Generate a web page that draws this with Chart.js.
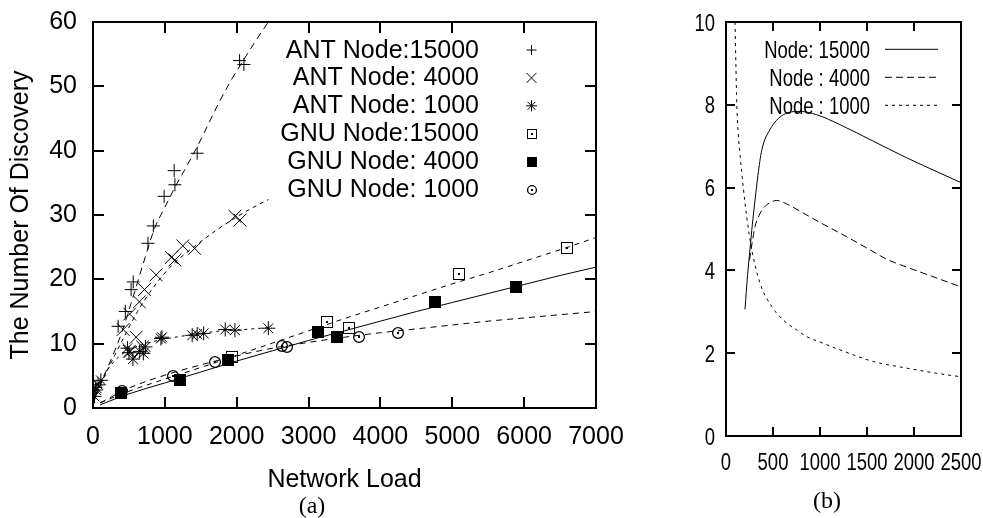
<!DOCTYPE html>
<html>
<head>
<meta charset="utf-8">
<script src="https://cdn.jsdelivr.net/npm/chart.js@4/dist/chart.umd.min.js"></script>
<style>
  html, body { margin: 0; padding: 0; background: #fff; }
  #wrap { position: relative; width: 983px; height: 518px; overflow: hidden; background: #fff; }
  canvas { position: absolute; top: 0; }
  #chartA { left: 0; }
  #chartB { left: 640px; }
  .cap { position: absolute; font-family: 'Liberation Serif', 'DejaVu Serif', serif; font-size: 24px;
         color: #000; transform: translate(-50%, -50%); white-space: nowrap; }
</style>
</head>
<body>
<div id="wrap">
  <canvas id="chartA" width="640" height="518"></canvas>
  <canvas id="chartB" width="343" height="518"></canvas>
  <div class="cap" style="left:312px;top:505px">(a)</div>
  <div class="cap" style="left:827px;top:500px">(b)</div>
</div>
<script>
// ---------- panel (a): number of discoveries vs. network load ----------
const loadTicksA = [0, 1000, 2000, 3000, 4000, 5000, 6000, 7000];
const discTicksA = [0, 10, 20, 30, 40, 50, 60];

const seriesLabelsA = ['ANT Node:15000', 'ANT Node: 4000', 'ANT Node: 1000',
                       'GNU Node:15000', 'GNU Node: 4000', 'GNU Node: 1000'];

// measured points [load, discoveries]
const ant15000 = [[40, 3.2], [350, 12.7], [450, 15.0], [530, 18.4], [560, 19.6], [765, 25.6],
                  [840, 28.3], [990, 32.9], [1140, 34.7], [1130, 36.9], [1450, 39.6],
                  [2040, 54.0], [2100, 53.4]];
const ant4000 = [[30, 3.3], [420, 12.2], [505, 8.8], [510, 14.6], [600, 11.0], [645, 16.5],
                 [690, 9.5], [716, 18.4], [878, 20.7], [1090, 23.4], [1140, 23.0], [1250, 25.2],
                 [1415, 24.8], [1975, 29.8], [2045, 29.2]];
const ant1000 = [[20, 1.8], [40, 2.8], [70, 3.6], [110, 4.3], [480, 9.3], [500, 8.6], [555, 7.6],
                 [650, 8.8], [700, 8.5], [730, 9.5], [945, 10.8], [960, 11.0], [1380, 11.3],
                 [1450, 11.5], [1540, 11.6], [1840, 12.2], [1975, 12.1], [2440, 12.4]];
const gnu15000 = [[1930, 8.0], [3260, 13.4], [3560, 12.5], [5100, 20.8], [6600, 24.8]];
const gnu4000 = [[390, 2.3], [1205, 4.4], [1880, 7.5], [3130, 11.8], [3390, 11.1],
                 [4755, 16.4], [5890, 18.8]];
const gnu1000 = [[400, 2.7], [1115, 4.9], [1695, 7.1], [2625, 9.6], [2694, 9.5],
                 [3705, 11.0], [4250, 11.6]];

// fitted trend curves
const ant15000Fit = [[20, 1.5], [130, 4.4], [250, 7.5], [390, 11.4], [480, 14.5], [600, 18.8],
                     [714, 23.0], [853, 27.8], [1000, 31.2], [1140, 34.3], [1300, 37.5],
                     [1450, 40.6], [1600, 44.0], [1750, 47.4], [1920, 50.9], [2090, 54.0],
                     [2260, 57.0], [2440, 60.0]];
const ant4000Fit = [[20, 1.2], [110, 3.8], [250, 7.0], [435, 11.1], [620, 15.0], [850, 18.9],
                    [1100, 22.2], [1400, 25.0], [1700, 27.5], [2000, 29.7], [2200, 31.0],
                    [2440, 32.4]];
const ant1000Fit = [[10, 1.0], [60, 2.8], [120, 4.3], [200, 5.9], [300, 7.3], [420, 8.5],
                    [550, 9.3], [700, 9.9], [900, 10.5], [1200, 11.1], [1500, 11.6],
                    [1800, 12.0], [2100, 12.2], [2440, 12.5]];
const gnu15000Fit = [[100, 0.8], [500, 2.6], [1000, 4.5], [1500, 6.3], [2000, 8.2], [2500, 10.1],
                     [3000, 12.0], [3500, 13.9], [4000, 15.7], [4500, 17.5], [5000, 19.3],
                     [5500, 21.0], [6000, 22.8], [6500, 24.6], [7000, 26.5]];
const gnu4000Fit = [[100, 0.5], [500, 2.2], [1000, 3.9], [1500, 5.6], [2000, 7.3], [2500, 8.9],
                    [3000, 10.5], [3500, 12.0], [4000, 13.5], [4500, 15.0], [5000, 16.4],
                    [5500, 17.8], [6000, 19.2], [6500, 20.6], [7000, 21.9]];
const gnu1000Fit = [[100, 0.8], [500, 3.1], [1000, 5.1], [1500, 6.7], [2000, 8.1], [2500, 9.3],
                    [3000, 10.2], [3500, 11.0], [4000, 11.7], [4500, 12.3], [5000, 12.9],
                    [5500, 13.5], [6000, 14.0], [6500, 14.5], [7000, 15.0]];

// ---------- panel (b) ----------
const loadTicksB = [0, 500, 1000, 1500, 2000, 2500];
const valTicksB = [0, 2, 4, 6, 8, 10];
const seriesLabelsB = ['Node: 15000', 'Node : 4000', 'Node : 1000'];
const node15000 = [[202, 3.06], [230, 3.9], [255, 4.5], [280, 5.1], [309, 5.7], [340, 6.3],
                   [380, 6.9], [468, 7.4], [610, 7.76], [787, 7.84], [965, 7.76], [1213, 7.52],
                   [1567, 7.12], [1922, 6.72], [2277, 6.35], [2500, 6.12]];
const node4000 = [[250, 4.25], [280, 4.7], [309, 5.06], [350, 5.32], [397, 5.5], [470, 5.64],
                  [539, 5.69], [650, 5.6], [787, 5.43], [982, 5.18], [1213, 4.9], [1530, 4.5],
                  [1709, 4.27], [1922, 4.08], [2200, 3.85], [2500, 3.6]];
const node1000 = [[96, 10], [105, 9.0], [115, 8.0], [130, 7.3], [149, 6.8], [184, 6.0],
                  [220, 5.3], [274, 4.5], [362, 3.69], [486, 3.13], [610, 2.8], [760, 2.55],
                  [858, 2.4], [1000, 2.27], [1213, 2.08], [1567, 1.8], [1922, 1.64],
                  [2200, 1.53], [2500, 1.43]];

// ---------- helpers ----------
const SANS = "'Liberation Sans', Arial, Helvetica, sans-serif";
const NARROW_SCALE = 0.77;           // panel (b) uses a condensed face
const toXY = pts => pts.map(([x, y]) => ({ x, y }));

function markerImage(kind, size) {
  const c = document.createElement('canvas');
  c.width = c.height = size + 2;
  const g = c.getContext('2d');
  const m = (size + 2) / 2;
  g.strokeStyle = '#000'; g.fillStyle = '#000'; g.lineWidth = 1;
  if (kind === 'box') {
    g.strokeRect(1.5, 1.5, size - 1, size - 1);
    g.fillRect(m - 1, m - 1, 2, 2);
  } else if (kind === 'solidbox') {
    g.fillRect(1, 1, size, size);
  } else if (kind === 'ring') {
    g.lineWidth = 1.3;
    g.beginPath(); g.arc(m, m, size / 2 - 0.6, 0, Math.PI * 2); g.stroke();
    g.fillRect(m - 1, m - 1, 2, 2);
  }
  return c;
}

const marks = (label, pts, style, r) => ({
  label, data: toXY(pts), showLine: false, pointStyle: style, pointRadius: r,
  pointHoverRadius: r, borderColor: '#000', backgroundColor: '#000',
  pointBorderWidth: 1, borderWidth: 1
});
const curve = (pts, dash, label) => ({
  label: label || '', data: toXY(pts), showLine: true, pointRadius: 0, pointHoverRadius: 0,
  borderColor: '#000', borderWidth: 1, borderDash: dash, fill: false,
  cubicInterpolationMode: 'monotone'
});

// crisp bitmap markers
const crispImages = {
  id: 'crispImages',
  beforeDatasetsDraw(chart) { chart.ctx.imageSmoothingEnabled = false; }
};

// inward tick marks on all four sides plus the plot frame
const frameAndTicks = {
  id: 'frameAndTicks',
  afterDatasetsDraw(chart, args, o) {
    const { ctx, chartArea: a } = chart;
    const xs = chart.scales.x, ys = chart.scales.y;
    ctx.save();
    ctx.strokeStyle = '#000';
    ctx.lineWidth = 2;
    ctx.beginPath();
    xs.ticks.forEach(t => {
      const p = Math.round(xs.getPixelForValue(t.value));
      ctx.moveTo(p, a.bottom); ctx.lineTo(p, a.bottom - o.len);
      ctx.moveTo(p, a.top); ctx.lineTo(p, a.top + o.len);
    });
    ys.ticks.forEach(t => {
      const p = Math.round(ys.getPixelForValue(t.value));
      ctx.moveTo(a.left, p); ctx.lineTo(a.left + o.len, p);
      ctx.moveTo(a.right, p); ctx.lineTo(a.right - o.len, p);
    });
    ctx.stroke();
    ctx.strokeRect(a.left, a.top, a.right - a.left, a.bottom - a.top);
    ctx.restore();
  }
};

// horizontally condensed text
function squeezedText(ctx, text, x, y, sx) {
  ctx.save();
  ctx.translate(x, y);
  ctx.scale(sx, 1);
  ctx.fillText(text, 0, 0);
  ctx.restore();
}

// tick labels drawn in the condensed face (panel b)
const condensedTickLabels = {
  id: 'condensedTickLabels',
  afterDraw(chart, args, o) {
    const { ctx, chartArea: a } = chart;
    const xs = chart.scales.x, ys = chart.scales.y;
    ctx.save();
    ctx.font = o.font;
    ctx.fillStyle = '#000';
    ctx.textBaseline = 'alphabetic';
    ctx.textAlign = 'center';
    xs.ticks.forEach(t => squeezedText(ctx, String(t.value), xs.getPixelForValue(t.value), o.xBaseline, o.sx));
    ctx.textAlign = 'right';
    ys.ticks.forEach(t => squeezedText(ctx, String(t.value), a.left - o.yGap, ys.getPixelForValue(t.value) + o.yShift, o.sx));
    ctx.restore();
  }
};

// key: right-aligned label followed by a sample (point symbol or line)
const keyBox = {
  id: 'keyBox',
  afterDraw(chart, args, o) {
    const { ctx } = chart;
    ctx.save();
    ctx.font = o.font;
    ctx.fillStyle = '#000';
    ctx.textAlign = 'right';
    ctx.textBaseline = 'alphabetic';
    o.entries.forEach((e, i) => {
      const ds = chart.data.datasets[e.ds];
      squeezedText(ctx, ds.label, o.textRight, o.baseline + i * o.step, o.sx || 1);
      const cy = o.symbolY + i * o.step;
      if (o.mode === 'point') {
        ctx.imageSmoothingEnabled = false;
        Chart.helpers.drawPoint(ctx, { pointStyle: e.style, radius: e.r, borderWidth: 1, rotation: 0 },
                                o.symbolX, cy);
        ctx.strokeStyle = '#000'; ctx.fillStyle = '#000';
      } else {
        ctx.beginPath();
        ctx.strokeStyle = '#000'; ctx.lineWidth = 1;
        ctx.setLineDash(ds.borderDash || []);
        ctx.moveTo(o.lineFrom, cy); ctx.lineTo(o.lineTo, cy);
        ctx.stroke();
        ctx.setLineDash([]);
      }
    });
    ctx.restore();
  }
};

const boxImg = markerImage('box', 12), solidImg = markerImage('solidbox', 12), ringImg = markerImage('ring', 12);
const boxKey = markerImage('box', 10), solidKey = markerImage('solidbox', 10), ringKey = markerImage('ring', 10);

const fixedX = h => s => { s.height = h; s.paddingLeft = 0; s.paddingRight = 0; };
const fixedY = w => s => { s.width = w; s.paddingTop = 0; s.paddingBottom = 0; };
const useTicks = arr => s => { s.ticks = arr.map(v => ({ value: v })); };
const plain = v => String(v);

// ---------- chart (a) ----------
const fontA = { family: SANS, size: 25 };
new Chart(document.getElementById('chartA'), {
  type: 'line',
  data: {
    datasets: [
      marks(seriesLabelsA[0], ant15000, 'cross', 6.5),
      marks(seriesLabelsA[1], ant4000, 'crossRot', 9),
      marks(seriesLabelsA[2], ant1000, 'star', 7),
      marks(seriesLabelsA[3], gnu15000, boxImg, 7),
      marks(seriesLabelsA[4], gnu4000, solidImg, 7),
      marks(seriesLabelsA[5], gnu1000, ringImg, 7),
      curve(ant15000Fit, [7, 5]),
      curve(ant4000Fit, [4, 4]),
      curve(ant1000Fit, [3, 4]),
      curve(gnu15000Fit, [5, 5]),
      curve(gnu4000Fit, []),
      curve(gnu1000Fit, [6, 5])
    ]
  },
  options: {
    responsive: false, devicePixelRatio: 1, animation: false, events: [],
    layout: { padding: { left: 0, right: 44, top: 22, bottom: 0 } },
    plugins: {
      legend: { display: false }, tooltip: { enabled: false },
      frameAndTicks: { len: 11 },
      keyBox: {
        mode: 'point', font: `25px ${SANS}`, textRight: 479, baseline: 57.5, step: 27.9,
        symbolX: 531.5, symbolY: 50,
        entries: [
          { ds: 0, style: 'cross', r: 5 }, { ds: 1, style: 'crossRot', r: 7 },
          { ds: 2, style: 'star', r: 5.5 }, { ds: 3, style: boxKey, r: 5 },
          { ds: 4, style: solidKey, r: 5 }, { ds: 5, style: ringKey, r: 5 }
        ]
      }
    },
    scales: {
      x: {
        type: 'linear', min: 0, max: 7000,
        afterBuildTicks: useTicks(loadTicksA), afterFit: fixedX(110),
        grid: { display: false, drawTicks: false }, border: { display: false },
        ticks: { font: fontA, color: '#000', padding: 14, maxRotation: 0, autoSkip: false, callback: plain },
        title: { display: true, text: 'Network Load', font: fontA, color: '#000',
                 padding: { top: 0, bottom: 23 } }
      },
      y: {
        type: 'linear', min: 0, max: 60,
        afterBuildTicks: useTicks(discTicksA), afterFit: fixedY(93),
        grid: { display: false, drawTicks: false }, border: { display: false },
        ticks: { font: fontA, color: '#000', padding: 16, autoSkip: false, callback: plain },
        title: { display: true, text: 'The Number Of Discovery', font: fontA, color: '#000',
                 padding: { top: 6, bottom: 0 } }
      }
    }
  },
  plugins: [crispImages, frameAndTicks, keyBox]
});

// ---------- chart (b) ----------
new Chart(document.getElementById('chartB'), {
  type: 'line',
  data: {
    datasets: [
      curve(node15000, [], seriesLabelsB[0]),
      curve(node4000, [7, 4], seriesLabelsB[1]),
      curve(node1000, [3, 4], seriesLabelsB[2])
    ]
  },
  options: {
    responsive: false, devicePixelRatio: 1, animation: false, events: [],
    layout: { padding: { left: 0, right: 22, top: 22, bottom: 0 } },
    plugins: {
      legend: { display: false }, tooltip: { enabled: false },
      frameAndTicks: { len: 9 },
      condensedTickLabels: { font: `24px ${SANS}`, sx: NARROW_SCALE, xBaseline: 470, yGap: 11, yShift: 8.5 },
      keyBox: {
        mode: 'line', font: `24px ${SANS}`, sx: NARROW_SCALE, textRight: 230, baseline: 57.5, step: 28,
        symbolY: 49.3, lineFrom: 245, lineTo: 298,
        entries: [{ ds: 0 }, { ds: 1 }, { ds: 2 }]
      }
    },
    scales: {
      x: {
        type: 'linear', min: 0, max: 2500,
        afterBuildTicks: useTicks(loadTicksB), afterFit: fixedX(82),
        grid: { display: false, drawTicks: false }, border: { display: false },
        ticks: { display: false }
      },
      y: {
        type: 'linear', min: 0, max: 10,
        afterBuildTicks: useTicks(valTicksB), afterFit: fixedY(86),
        grid: { display: false, drawTicks: false }, border: { display: false },
        ticks: { display: false }
      }
    }
  },
  plugins: [frameAndTicks, condensedTickLabels, keyBox]
});
</script>
</body>
</html>
